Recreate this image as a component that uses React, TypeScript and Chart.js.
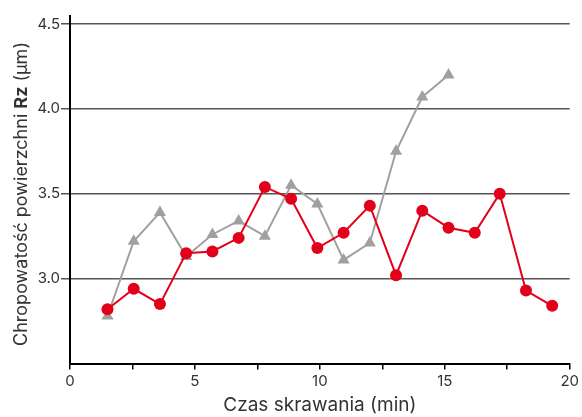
import React, { useEffect, useRef } from "react";
import { Chart, registerables } from "chart.js";

Chart.register(...registerables);

const xValues = [1.5, 2.55, 3.6, 4.65, 5.7, 6.75, 7.8, 8.85, 9.9, 10.95, 12.0, 13.05, 14.1, 15.15, 16.2, 17.2, 18.25, 19.3];
const redValues = [2.82, 2.94, 2.85, 3.15, 3.16, 3.24, 3.54, 3.47, 3.18, 3.27, 3.43, 3.02, 3.40, 3.30, 3.27, 3.50, 2.93, 2.84];
const grayValues = [2.78, 3.22, 3.39, 3.13, 3.26, 3.34, 3.25, 3.55, 3.44, 3.11, 3.21, 3.75, 4.07, 4.20];
const yTickValues = [3.0, 3.5, 4.0, 4.5];
const xTitle = "Czas skrawania (min)";
const yTitleParts = [
  { text: "Chropowatość powierzchni ", bold: false },
  { text: "Rz", bold: true },
  { text: " (µm)", bold: false },
];

const FONT = "Inter, 'DejaVu Sans', sans-serif";
const TEXT = "#333";
const RED = "#e2001a";
const GRAY = "#a0a09f";

const yTitlePlugin = {
  id: "yTitle",
  afterDraw(chart: any) {
    const { ctx } = chart;
    const size = 18;
    ctx.save();
    ctx.translate(27, 194);
    ctx.rotate(-Math.PI / 2);
    ctx.textBaseline = "alphabetic";
    ctx.fillStyle = TEXT;
    let total = 0;
    const widths = yTitleParts.map((p) => {
      ctx.font = `${p.bold ? "bold " : ""}${size}px ${FONT}`;
      const w = ctx.measureText(p.text).width;
      total += w;
      return w;
    });
    let x = -total / 2;
    yTitleParts.forEach((p, i) => {
      ctx.font = `${p.bold ? "bold " : ""}${size}px ${FONT}`;
      ctx.textAlign = "left";
      ctx.fillText(p.text, x, 0);
      x += widths[i];
    });
    ctx.restore();
  },
};

export default function App() {
  const ref = useRef<HTMLCanvasElement | null>(null);
  useEffect(() => {
    document.body.style.margin = "0";
    const canvas = ref.current;
    if (!canvas) return;
    const chart = new Chart(canvas, {
      type: "line",
      data: {
        datasets: [
          {
            data: xValues.map((x, i) => ({ x, y: redValues[i] })),
            borderColor: RED,
            backgroundColor: RED,
            borderWidth: 2,
            pointRadius: 6,
            pointBorderWidth: 0,
            pointStyle: "circle",
            tension: 0,
          },
          {
            data: grayValues.map((y, i) => ({ x: xValues[i], y })),
            borderColor: GRAY,
            backgroundColor: GRAY,
            borderWidth: 2,
            pointRadius: 7,
            pointBorderWidth: 0,
            pointStyle: "triangle",
            tension: 0,
          },
        ],
      },
      options: {
        animation: false,
        responsive: false,
        layout: { padding: { top: 15.5, right: 9, left: 0, bottom: 0 } },
        plugins: { legend: { display: false }, tooltip: { enabled: false } },
        scales: {
          x: {
            type: "linear",
            min: 0,
            max: 20,
            ticks: {
              stepSize: 2.5,
              autoSkip: false,
              maxRotation: 0,
              padding: 3,
              color: TEXT,
              font: { family: FONT, size: 15 },
              callback: (v: any) => (Number(v) % 5 === 0 ? String(v) : ""),
            },
            grid: { drawOnChartArea: false, drawTicks: true, tickLength: 6, color: "#000", lineWidth: 1.5 },
            border: { display: true, color: "#000", width: 2 },
            title: {
              display: true,
              text: xTitle,
              color: TEXT,
              font: { family: FONT, size: 19 },
              padding: { top: 0, bottom: 0 },
            },
            afterFit: (s: any) => {
              s.height = 53.5;
            },
          },
          y: {
            type: "linear",
            min: 2.5,
            max: 4.55,
            afterBuildTicks: (s: any) => {
              s.ticks = yTickValues.map((v) => ({ value: v }));
            },
            ticks: {
              padding: 1,
              color: TEXT,
              font: { family: FONT, size: 15 },
              callback: (v: any) => Number(v).toFixed(1),
            },
            grid: { color: "#555", lineWidth: 1.5, tickLength: 9 },
            border: { display: true, color: "#000", width: 2 },
            afterFit: (s: any) => {
              s.width = 70;
            },
          },
        },
      },
      plugins: [yTitlePlugin],
    } as any);
    return () => chart.destroy();
  }, []);
  return (
    <div style={{ width: 582, height: 417 }}>
      <canvas ref={ref} width={582} height={417} style={{ display: "block" }} />
    </div>
  );
}
